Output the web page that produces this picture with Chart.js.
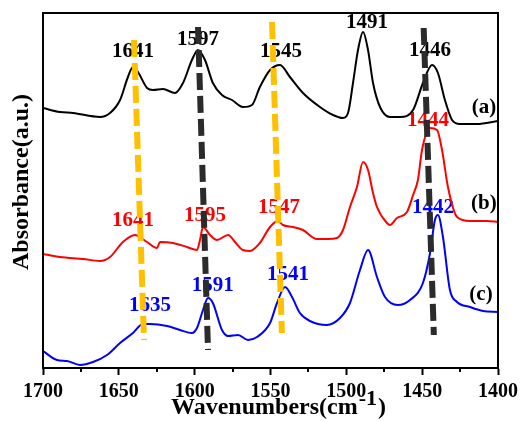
<!DOCTYPE html>
<html>
<head>
<meta charset="utf-8">
<script src="https://cdn.jsdelivr.net/npm/chart.js@4/dist/chart.umd.min.js"></script>
<style>
html,body{margin:0;padding:0;background:#fff;}
#wrap{width:525px;height:421px;}
</style>
</head>
<body>
<div id="wrap"><canvas id="c" width="525" height="421"></canvas></div>
<script>
// ---- Data ----
const waveA = [1700,1688.8,1680.2,1662.4,1655.8,1649.2,1644.0,1640.7,1637.4,1631.4,1627.5,1620.9,1613.0,1607.7,1601.8,1597.8,1593.2,1588.0,1582.0,1575.4,1568.2,1562.2,1557.0,1550.3,1543.7,1537.2,1528.6,1517.4,1508.8,1502.2,1498.9,1495.6,1492.3,1489.0,1485.7,1482.4,1477.8,1471.2,1464.6,1456.0,1449.5,1443.5,1439.6,1435.0,1430.3,1425.1,1413.9,1400];
const absA  = [260,256,255,251,255,268,291,301,296,280,278,279,275,285,308,318,308,285,273,268,261,263,281,298,303,291,275,261,253,250,255,285,318,336,318,285,261,251,251,258,285,303,295,268,248,244,244,247];

const waveB = [1700,1688.8,1673.6,1662.4,1655.8,1647.3,1639.4,1631.4,1624.8,1622.9,1614.3,1605.1,1598.5,1596.5,1594.5,1589.9,1585.3,1578.0,1573.4,1568.2,1563.5,1557.0,1550.3,1545.1,1541.8,1535.2,1528.6,1519.4,1512.1,1506.2,1502.2,1497.6,1493.0,1489.0,1485.7,1482.4,1479.8,1473.2,1471.2,1466.6,1460.0,1456.0,1452.8,1450.1,1444.8,1440.2,1436.9,1433.0,1427.0,1418.5,1407.3,1400];
const absB  = [114,111,109,107,111,126,133,126,120,126,125,121,118,128,141,133,128,133,126,118,117,125,141,147,143,141,138,129,129,130,138,161,181,206,198,175,161,145,143,150,156,173,188,218,240,238,218,181,151,147,147,146];

const waveC = [1700,1690.8,1684.2,1675.6,1667.0,1657.8,1649.2,1640.7,1634.1,1629.5,1618.2,1609.7,1601.8,1598.5,1594.5,1591.2,1588.0,1582.0,1578.0,1571.4,1564.8,1558.9,1550.3,1545.7,1540.4,1535.8,1530.6,1524.0,1512.8,1504.2,1497.6,1491.0,1485.7,1479.8,1474.5,1466.0,1458.0,1449.5,1444.8,1441.6,1439.6,1436.3,1431.7,1427.0,1418.5,1409.9,1400];
const absC  = [17,8,7,3,6,13,25,35,44,44,42,38,35,40,58,70,65,38,32,33,28,31,45,65,81,71,55,47,43,50,65,98,118,91,71,63,68,85,115,148,153,131,78,66,61,57,56];

// guide lines: [start wavenumber, end wavenumber], [start abs, end abs]
const guideWave = [[1640.0,1633.4],[1597.8,1591.2],[1549.0,1542.5],[1449.0,1442.3]];
const guideAbs  = [[328,28],[341,18],[346,35],[340,33]];
const guideColor = ['#FFC000','#2B2B2B','#FFC000','#2B2B2B'];

// peak labels
const labelText  = ['1641','1597','1545','1491','1446','(a)','1444','1641','1595','1547','(b)','1442','1635','1591','1541','(c)'];
const labelWave  = [1640.7,1597.8,1543.1,1486.4,1444.8,1409.3,1446.2,1640.7,1593.2,1544.4,1409.3,1442.9,1629.5,1588.0,1538.5,1411.2];
const labelAbs   = [316,328,316,345,317,260,247,147,152,160,164,160,62,82,93,73];
const labelColor = ['#000','#000','#000','#000','#000','#000','#FF0000','#FF0000','#FF0000','#FF0000','#000','#0000FF','#0000FF','#0000FF','#0000FF','#000'];

const xTicks = [1700,1650,1600,1550,1500,1450,1400];
const xMinorTicks = [1675,1625,1575,1525,1475,1425];

// ---- Build datasets ----
const pts = (w, a) => w.map((v, i) => ({x: v, y: a[i]}));
const datasets = [];
guideWave.forEach((w, i) => {
  datasets.push({
    data: [{x: w[0], y: guideAbs[i][0]}, {x: w[1], y: guideAbs[i][1]}],
    borderColor: guideColor[i], borderWidth: 6, borderDash: [17, 6],
    borderCapStyle: 'butt', pointRadius: 0, tension: 0, order: 0
  });
});
[[waveA, absA, '#000000'], [waveB, absB, '#FF0000'], [waveC, absC, '#0000FF']].forEach(s => {
  datasets.push({
    data: pts(s[0], s[1]), borderColor: s[2], borderWidth: 2,
    pointRadius: 0, cubicInterpolationMode: 'monotone', order: 1
  });
});

const FONT = '"Liberation Serif", "Times New Roman", serif';

const decor = {
  id: 'decor',
  beforeDatasetsDraw(chart) {
    const ctx = chart.ctx, xs = chart.scales.x, ys = chart.scales.y;
    ctx.save();
    ctx.font = 'bold 21px ' + FONT;
    ctx.textAlign = 'center';
    ctx.textBaseline = 'middle';
    labelText.forEach((t, i) => {
      ctx.fillStyle = labelColor[i];
      ctx.fillText(t, xs.getPixelForValue(labelWave[i]), ys.getPixelForValue(labelAbs[i]));
    });
    ctx.restore();
  },
  afterDraw(chart) {
    const ctx = chart.ctx, a = chart.chartArea, xs = chart.scales.x;
    ctx.save();
    ctx.strokeStyle = '#000';
    ctx.lineWidth = 2;
    ctx.strokeRect(a.left, a.top, a.right - a.left, a.bottom - a.top);
    // minor ticks
    xMinorTicks.forEach(v => {
      const px = Math.round(xs.getPixelForValue(v));
      ctx.beginPath();
      ctx.moveTo(px, a.bottom);
      ctx.lineTo(px, a.bottom + 4);
      ctx.stroke();
    });
    // x title with superscript
    ctx.fillStyle = '#000';
    ctx.textBaseline = 'alphabetic';
    ctx.textAlign = 'left';
    const F1 = 'bold 24px ' + FONT, F2 = 'bold 22px ' + FONT;
    ctx.font = F1;
    const main = 'Wavenumbers(cm';
    const sup = '-1';
    const close = ')';
    const wMain = ctx.measureText(main).width;
    ctx.font = F2;
    const wSup = ctx.measureText(sup).width;
    ctx.font = F1;
    const wClose = ctx.measureText(close).width;
    let x0 = 279 - (wMain + wSup + wClose + 3) / 2;
    const base = 414;
    ctx.fillText(main, x0, base);
    ctx.font = F2;
    ctx.fillText(sup, x0 + wMain + 1, base - 9);
    ctx.font = F1;
    ctx.fillText(close, x0 + wMain + wSup + 2, base);
    // y title
    ctx.translate(22, 182);
    ctx.rotate(-Math.PI / 2);
    ctx.textAlign = 'center';
    ctx.textBaseline = 'middle';
    ctx.font = 'bold 24px ' + FONT;
    ctx.fillText('Absorbance(a.u.)', 0, 0);
    ctx.restore();
  }
};

new Chart(document.getElementById('c'), {
  type: 'line',
  data: { datasets },
  options: {
    responsive: false,
    devicePixelRatio: 1,
    animation: false,
    events: [],
    layout: { padding: { top: 13, right: 27, left: 0, bottom: 0 } },
    plugins: { legend: { display: false }, tooltip: { enabled: false } },
    scales: {
      x: {
        type: 'linear', reverse: true, min: 1400, max: 1700,
        afterBuildTicks: s => { s.ticks = xTicks.map(v => ({value: v})); },
        afterFit: s => { s.height = 53; },
        ticks: { color: '#000', font: { family: FONT, weight: 'bold', size: 20 }, padding: 5, maxRotation: 0, autoSkip: false,
                 callback: v => String(v) },
        grid: { display: true, drawOnChartArea: false, drawTicks: true, tickLength: 7, tickWidth: 2, tickColor: '#000' },
        border: { display: true, color: '#000', width: 2 }
      },
      y: {
        min: 0, max: 355,
        afterFit: s => { s.width = 43; },
        ticks: { display: false },
        grid: { display: false, drawTicks: false },
        border: { display: true, color: '#000', width: 2 }
      }
    }
  },
  plugins: [decor]
});
</script>
</body>
</html>
